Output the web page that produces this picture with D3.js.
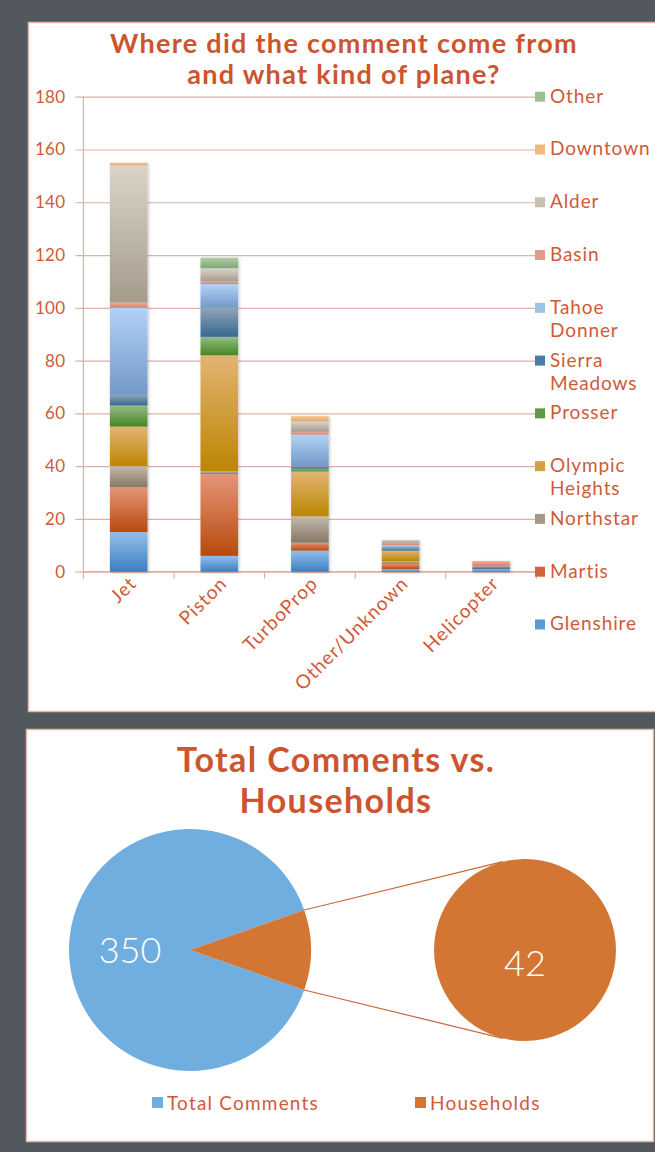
<!DOCTYPE html>
<html>
<head>
<meta charset="utf-8">
<script src="https://cdn.jsdelivr.net/npm/d3@7"></script>
<style>
  html, body { margin: 0; padding: 0; background: #53575e; }
  svg { display: block; }
  text { font-family: "Lato", "DejaVu Sans", sans-serif; }
</style>
</head>
<body>
<svg id="page" width="655" height="1152"></svg>
<script>
// ---- Comments by plane type and neighbourhood ----
const categories = ["Jet", "Piston", "TurboProp", "Other/Unknown", "Helicopter"];
const seriesNames = ["Glenshire", "Martis", "Northstar", "Olympic Heights", "Prosser",
  "Sierra Meadows", "Tahoe Donner", "Basin", "Alder", "Downtown", "Other"];
const legendLines = [["Glenshire"], ["Martis"], ["Northstar"], ["Olympic", "Heights"], ["Prosser"],
  ["Sierra", "Meadows"], ["Tahoe", "Donner"], ["Basin"], ["Alder"], ["Downtown"], ["Other"]];

// values per category: Jet, Piston, TurboProp, Other/Unknown, Helicopter
const glenshire      = [15,  6,  8, 1, 1];
const martis         = [17, 31,  3, 2, 0];
const northstar      = [ 8,  1, 10, 1, 0];
const olympicHeights = [15, 44, 17, 4, 0];
const prosser        = [ 8,  7,  1, 0, 0];
const sierraMeadows  = [ 4, 11,  1, 1, 1];
const tahoeDonner    = [33,  9, 12, 1, 0];
const basin          = [ 2,  1,  1, 1, 2];
const alder          = [52,  5,  4, 1, 0];
const downtown       = [ 1,  0,  2, 0, 0];
const other          = [ 0,  4,  0, 0, 0];
const seriesValues = [glenshire, martis, northstar, olympicHeights, prosser,
  sierraMeadows, tahoeDonner, basin, alder, downtown, other];

const yTicks = [0, 20, 40, 60, 80, 100, 120, 140, 160, 180];

// ---- Total comments vs. households ----
const pieLabels = ["Total Comments", "Households"];
const pieValues = [350, 42];

// gradient stops (top, bottom) and legend swatch colour per series
const seriesColors = [
  ["#92bfea", "#3b7fc2", "#5b9bd5"],
  ["#e4957a", "#b84a0c", "#d0643a"],
  ["#c4b9aa", "#877866", "#a59a8a"],
  ["#e2b474", "#bc8600", "#d4a040"],
  ["#94bd86", "#458624", "#5e9a45"],
  ["#90a5b8", "#376790", "#4a7ba0"],
  ["#b2d2f6", "#7399c8", "#9dc3e6"],
  ["#eeaa98", "#d9806a", "#e0998a"],
  ["#dcd4c8", "#a49b8b", "#c9c0b2"],
  ["#f3cb9d", "#e3a66a", "#f0b880"],
  ["#b0cfa7", "#80a878", "#9cc095"]
];

const svg = d3.select("#page");
const defs = svg.append("defs");

const textColor = "#d05a38";
const gridColor = "#deb1a8";

// panels
svg.append("rect").attr("x", 28.5).attr("y", 22.5).attr("width", 640).attr("height", 689)
  .attr("fill", "#fff").attr("stroke", "#e6b8ac").attr("stroke-width", 1.5);
svg.append("rect").attr("x", 26.5).attr("y", 729.5).attr("width", 627).attr("height", 412)
  .attr("fill", "#fff").attr("stroke", "#e6b8ac").attr("stroke-width", 1.5);

// ---------- stacked bar chart ----------
const plot = { left: 83.4, right: 536.4, top: 96.7, bottom: 571.7 };

const x = d3.scaleBand().domain(categories).range([plot.left, plot.right]).paddingInner(0.585).paddingOuter(0.2925);
const y = d3.scaleLinear().domain([0, 180]).range([plot.bottom, plot.top]);

seriesColors.forEach((c, i) => {
  const g = defs.append("linearGradient").attr("id", "grad" + i)
    .attr("x1", 0).attr("y1", 0).attr("x2", 0).attr("y2", 1);
  g.append("stop").attr("offset", "0%").attr("stop-color", c[0]);
  g.append("stop").attr("offset", "100%").attr("stop-color", c[1]);
});

const shadow = defs.append("filter").attr("id", "shadow")
  .attr("x", "-20%").attr("y", "-20%").attr("width", "140%").attr("height", "140%");
shadow.append("feDropShadow").attr("dx", 1).attr("dy", 1).attr("stdDeviation", 1.5)
  .attr("flood-color", "#000").attr("flood-opacity", 0.25);

// title
const title = svg.append("text").attr("text-anchor", "middle").attr("fill", "#cc5530")
  .attr("font-weight", 700).attr("font-size", 27).attr("letter-spacing", 1.3);
title.append("tspan").attr("x", 344).attr("y", 53).text("Where did the comment come from");
title.append("tspan").attr("x", 344).attr("y", 84).text("and what kind of plane?");

// gridlines + y ticks
const yAxis = d3.axisLeft(y).tickValues(yTicks).tickSize(-(plot.right - plot.left) - 8).tickPadding(10).tickFormat(d3.format("d"));
const gy = svg.append("g").attr("transform", `translate(${plot.left - 8},0)`).call(yAxis);
gy.select(".domain").remove();
gy.selectAll(".tick line").attr("stroke", gridColor).attr("stroke-width", 1.2);
gy.selectAll(".tick text").attr("fill", textColor).attr("font-size", 17)
  .attr("font-family", "Lato, sans-serif").attr("letter-spacing", 0.3);

// vertical axis line
svg.append("line").attr("x1", plot.left).attr("x2", plot.left).attr("y1", plot.top).attr("y2", plot.bottom)
  .attr("stroke", gridColor).attr("stroke-width", 1.2);

// x axis with ticks on category boundaries
const boundaries = d3.range(categories.length + 1).map(i => plot.left + i * x.step());
svg.append("g").selectAll("line").data(boundaries).join("line")
  .attr("x1", d => d).attr("x2", d => d).attr("y1", plot.bottom).attr("y2", plot.bottom + 7)
  .attr("stroke", gridColor).attr("stroke-width", 1.2);
svg.append("line").attr("x1", plot.left).attr("x2", plot.right).attr("y1", plot.bottom).attr("y2", plot.bottom)
  .attr("stroke", gridColor).attr("stroke-width", 1.2);

// stacked bars
const table = categories.map((c, ci) => {
  const row = { category: c };
  seriesNames.forEach((s, si) => row[s] = seriesValues[si][ci]);
  return row;
});
const stacked = d3.stack().keys(seriesNames)(table);

const barsG = svg.append("g").attr("filter", "url(#shadow)");
stacked.forEach((layer, si) => {
  barsG.append("g").selectAll("rect").data(layer.filter(d => d[1] > d[0])).join("rect")
    .attr("x", d => x(d.data.category))
    .attr("width", x.bandwidth())
    .attr("y", d => y(d[1]))
    .attr("height", d => y(d[0]) - y(d[1]))
    .attr("fill", `url(#grad${si})`);
});

// category labels, rotated
svg.append("g").selectAll("text").data(categories).join("text")
  .attr("transform", d => `translate(${x(d) + x.bandwidth() / 2 + 9},${plot.bottom + 13}) rotate(-45)`)
  .attr("text-anchor", "end").attr("fill", textColor).attr("font-size", 19)
  .attr("letter-spacing", 1).text(d => d);

// legend, one entry per 20-unit gridline
const legend = svg.append("g");
seriesNames.forEach((s, si) => {
  const cy = y(20 * (si - 1));
  legend.append("rect").attr("x", 535).attr("y", cy - 5).attr("width", 10).attr("height", 10)
    .attr("fill", seriesColors[si][2]);
  const t = legend.append("text").attr("fill", textColor).attr("font-size", 19).attr("letter-spacing", 0.9);
  legendLines[si].forEach((ln, li) => {
    t.append("tspan").attr("x", 550).attr("y", cy + 6 + li * 23).text(ln);
  });
});

// ---------- pie of pie ----------
const blue = "#71aee0";
const orange = "#d37634";

const title2 = svg.append("g").attr("fill", "#cc5530")
  .attr("font-weight", 700).attr("font-size", 34).attr("letter-spacing", 1.4);
title2.append("text").attr("text-anchor", "middle").attr("x", 336).attr("y", 772).text("Total Comments vs.");
title2.append("text").attr("text-anchor", "middle").attr("x", 336).attr("y", 813).text("Households");

const mainC = { x: 190, y: 950, r: 121 };
const subC = { x: 525, y: 950, r: 91 };

const total = d3.sum(pieValues);
const half = Math.PI * pieValues[1] / total;
const pie = d3.pie().sort(null)
  .startAngle(Math.PI / 2 + half).endAngle(Math.PI / 2 + half + 2 * Math.PI);
const arcs = pie(pieValues);
const arc = d3.arc().innerRadius(0).outerRadius(mainC.r);

const pieG = svg.append("g").attr("transform", `translate(${mainC.x},${mainC.y})`);
pieG.selectAll("path").data(arcs).join("path")
  .attr("d", arc).attr("fill", (d, i) => i === 0 ? blue : orange);

// secondary pie holding the households slice alone
const subArcs = d3.pie().sort(null)([pieValues[1]]);
const subG = svg.append("g").attr("transform", `translate(${subC.x},${subC.y})`);
subG.selectAll("path").data(subArcs).join("path")
  .attr("d", d3.arc().innerRadius(0).outerRadius(subC.r)).attr("fill", orange);

// connector lines from the slice edges to the secondary pie
const hs = arcs[1];
const pt = (c, a) => [c.x + c.r * Math.sin(a), c.y - c.r * Math.cos(a)];
const tanA = 14 * Math.PI / 180;
const lines = [
  [pt(mainC, hs.startAngle), pt(subC, -tanA)],
  [pt(mainC, hs.endAngle), pt(subC, Math.PI + tanA)]
];
svg.append("g").selectAll("line").data(lines).join("line")
  .attr("x1", d => d[0][0]).attr("y1", d => d[0][1])
  .attr("x2", d => d[1][0]).attr("y2", d => d[1][1])
  .attr("stroke", "#c8683a").attr("stroke-width", 1.2);

// value labels
svg.append("text").attr("x", 130).attr("y", 963).attr("text-anchor", "middle")
  .attr("fill", "#fff").attr("font-size", 36).attr("font-weight", 300).text(pieValues[0]);
svg.append("text").attr("x", 525).attr("y", 976).attr("text-anchor", "middle")
  .attr("fill", "#fff").attr("font-size", 36).attr("font-weight", 300).text(pieValues[1]);

// legend
const pieLegend = [{ x: 152, c: blue }, { x: 415, c: orange }];
pieLabels.forEach((lab, i) => {
  svg.append("rect").attr("x", pieLegend[i].x).attr("y", 1097).attr("width", 11).attr("height", 11)
    .attr("fill", pieLegend[i].c);
  svg.append("text").attr("x", pieLegend[i].x + 15).attr("y", 1110).attr("fill", textColor)
    .attr("font-size", 19).attr("letter-spacing", 1.2).text(lab);
});
</script>
</body>
</html>
